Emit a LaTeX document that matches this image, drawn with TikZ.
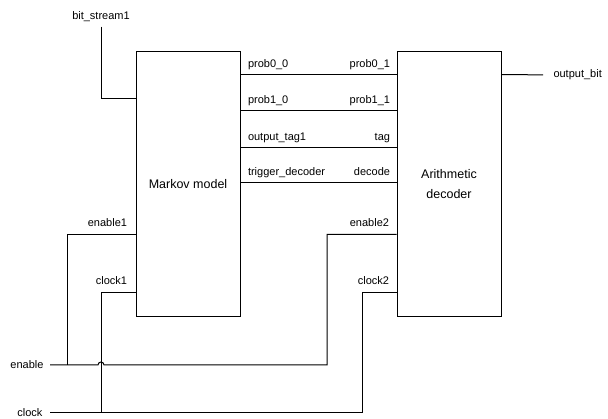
\documentclass[tikz,border=0pt]{standalone}
\usepackage{fontspec}
\setmainfont{Liberation Sans}
\usetikzlibrary{positioning,calc}

\begin{document}
\begin{tikzpicture}[x=1pt, y=-1pt, line width=1pt, every node/.style={font=\fontsize{11}{13}\selectfont, inner sep=0pt}]
  \tikzstyle{block}=[rectangle, draw, minimum width=104pt, minimum height=265pt, align=center, font=\fontsize{12.5}{20}\selectfont]
  \tikzstyle{portl}=[anchor=base west]
  \tikzstyle{portr}=[anchor=base east]
  \useasboundingbox (0,0) rectangle (608,419);
  % blocks
  \node[block] (mm) at (188,184.5) {Markov model};
  \node[block] (ad) at (449,184.5) {Arithmetic\\decoder};
  % ports
  \foreach \dy/\nm in {23/p0, 59/p1, 96/tag, 131/dec, 183/en, 241/clk, 47/bit} {
    \path (mm.north west) ++(0,\dy) coordinate (mm-w-\nm);
    \path (mm.north east) ++(0,\dy) coordinate (mm-e-\nm);
    \path (ad.north west) ++(0,\dy) coordinate (ad-w-\nm);
    \path (ad.north east) ++(0,\dy) coordinate (ad-e-\nm);
  }
  % bus between the blocks
  \foreach \nm/\la/\lb in {p0/prob0\_0/prob0\_1, p1/prob1\_0/prob1\_1, tag/output\_tag1/tag, dec/trigger\_decoder/decode} {
    \draw (mm-e-\nm) -- (ad-w-\nm);
    \node[portl] at ($(mm-e-\nm)+(7,-7)$) {\la};
    \node[portr] at ($(ad-w-\nm)+(-6,-7)$) {\lb};
  }
  % port labels
  \node[portr] at ($(mm-w-en)+(-8,-8)$) {enable1};
  \node[portr] at ($(mm-w-clk)+(-8,-8)$) {clock1};
  \node[portr] at ($(ad-w-en)+(-7,-8)$) {enable2};
  \node[portr] at ($(ad-w-clk)+(-7,-8)$) {clock2};
  % inputs and output
  \node (bs) at (101,17) {bit\_stream1};
  \node[anchor=west] (ob) at (553,75) {output\_bit};
  \node[anchor=east] (enable) at (44,365) {enable};
  \node[anchor=east] (clock) at (43,413) {clock};
  \draw[shorten <=4pt] (bs.south) |- (mm-w-bit);
  \draw[shorten >=10pt] (ad-e-p0) -- (ob.west);
  \draw[shorten <=6pt] (enable.east) -- (98,365) arc[start angle=180, end angle=0, radius=3pt] -- (327,365) |- (ad-w-en);
  \draw (mm-w-en) -| (67,365);
  \draw[shorten <=7pt] (clock.east) -- (362,413) |- (ad-w-clk);
  \draw (mm-w-clk) -| (101,413);
\end{tikzpicture}
\end{document}
